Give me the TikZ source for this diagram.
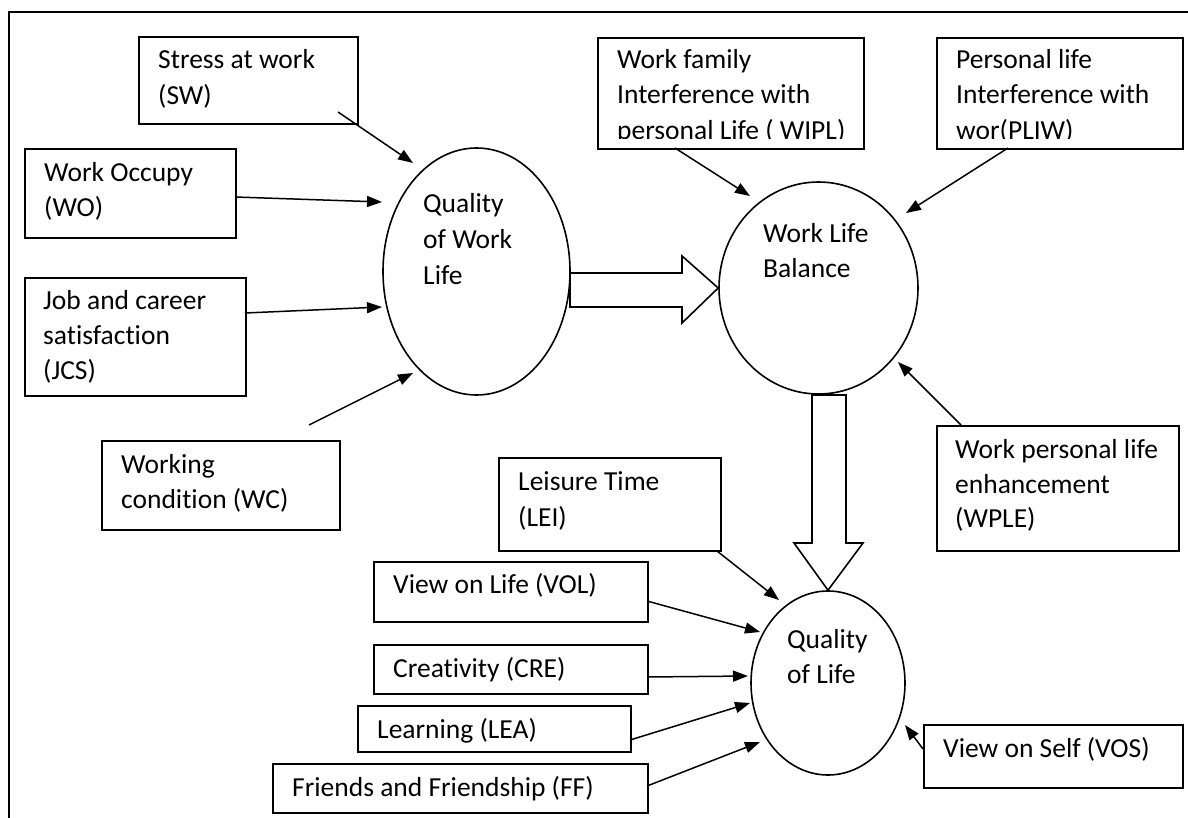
\documentclass[tikz,border=0pt]{standalone}
\usepackage{fontspec}
\setmainfont[Ligatures=NoCommon]{Carlito}
\usetikzlibrary{arrows.meta,shapes.geometric}
\begin{document}
\begin{tikzpicture}[x=1pt,y=-1pt,
  box/.style={draw, line width=1.6pt, inner sep=0pt, anchor=north west},
  lbl/.style={anchor=base west, inner sep=0pt, font=\fontsize{27.5}{35}\selectfont},
  oval/.style={draw, ellipse, line width=1.6pt, inner sep=0pt},
  arr/.style={line width=1.5pt, -{Triangle[length=15pt,width=11pt]}},
  blockarr/.style={draw, line width=1.6pt, fill=white, line join=miter}]

\useasboundingbox (0,0) rectangle (1188,818);
\draw[line width=1.6pt] (9,818) -- (9,12) -- (1188,12);

% ---------- boxes ----------
\node[box, minimum width=219pt, minimum height=87pt]  (sw)   at (138,36) {};
\node[box, minimum width=211pt, minimum height=89pt]  (wo)   at (24,148) {};
\node[box, minimum width=221pt, minimum height=118pt] (jcs)  at (24,277) {};
\node[box, minimum width=238pt, minimum height=89pt]  (wc)   at (101,440) {};
\node[box, minimum width=266pt, minimum height=111pt] (wipl) at (597,37) {};
\node[box, minimum width=246pt, minimum height=111pt] (pliw) at (936,37) {};
\node[box, minimum width=242pt, minimum height=125pt] (wple) at (936,425) {};
\node[box, minimum width=222pt, minimum height=93pt]  (lei)  at (498,457) {};
\node[box, minimum width=274pt, minimum height=60pt]  (vol)  at (373,561) {};
\node[box, minimum width=274pt, minimum height=49pt]  (cre)  at (373,644) {};
\node[box, minimum width=273pt, minimum height=46pt]  (lea)  at (357,705) {};
\node[box, minimum width=375pt, minimum height=49pt]  (ff)   at (272,763) {};
\node[box, minimum width=259pt, minimum height=63pt]  (vos)  at (923,724) {};

% ---------- ellipses ----------
\node[oval, minimum width=187pt, minimum height=247pt] (qwl) at (476.5,271.5) {};
\node[oval, minimum width=199pt, minimum height=212pt] (wlb) at (818.5,288) {};
\node[oval, minimum width=154pt, minimum height=184pt] (qol) at (828,683) {};

% ---------- block arrows ----------
\draw[blockarr] (570,273) -- (682,273) -- (682,256) -- (wlb.west) -- (682,323) -- (682,307) -- (570,307) -- cycle;
\draw[blockarr] (812,395) -- (846,395) -- (846,543) -- (863,543) -- (qol.north) -- (794,543) -- (812,543) -- cycle;

% ---------- texts ----------
\node[lbl] (swt1) at (158,69)  {Stress at work};
\node[lbl] (swt2) at (158,105) {(SW)};
\node[lbl] (wot1) at (44,182)  {Work Occupy};
\node[lbl] (wot2) at (44,217)  {(WO)};
\node[lbl] (jct1) at (43,309)  {Job and career};
\node[lbl] (jct2) at (43,344)  {satisfaction};
\node[lbl] (jct3) at (43,379)  {(JCS)};
\node[lbl] (wct1) at (121,473) {Working};
\node[lbl] (wct2) at (121,508) {condition (WC)};
\node[lbl] (wit1) at (617,69)  {Work family};
\node[lbl] (wit2) at (617,104) {Interference with};
\begin{scope}
  \clip (597,37) rectangle (863,138.5);
  \node[lbl] (wit3) at (617,140) {personal Life ( WIPL)};
\end{scope}
\node[lbl] (plt1) at (956,69)  {Personal life};
\node[lbl] (plt2) at (956,104) {Interference with};
\begin{scope}
  \clip (936,37) rectangle (1182,138.5);
  \node[lbl] (plt3) at (956,140) {wor(PLIW)};
\end{scope}
\node[lbl] (wpt1) at (955,458) {Work personal life};
\node[lbl] (wpt2) at (955,493) {enhancement};
\node[lbl] (wpt3) at (955,527) {(WPLE)};
\node[lbl] (let1) at (518,490) {Leisure Time};
\node[lbl] (let2) at (518,526) {(LEI)};
\node[lbl] (vot1) at (393,593) {View on Life (VOL)};
\node[lbl] (crt1) at (393,677) {Creativity (CRE)};
\node[lbl] (lat1) at (377,738) {Learning (LEA)};
\node[lbl] (fft1) at (292,796) {Friends and Friendship (FF)};
\node[lbl] (vst1) at (943,757) {View on Self (VOS)};
\node[lbl] (qwt1) at (423,213) {Quality};
\node[lbl] (qwt2) at (423,249) {of Work};
\node[lbl] (qwt3) at (423,284) {Life};
\node[lbl] (wlt1) at (763,243) {Work Life};
\node[lbl] (wlt2) at (763,278) {Balance};
\node[lbl] (qlt1) at (787,648) {Quality};
\node[lbl] (qlt2) at (787,683) {of Life};

% ---------- arrow end points ----------
\coordinate (swA)  at (338,112);  \coordinate (swB)  at (413,163);
\coordinate (woA)  at (235,197);  \coordinate (woB)  at (382,202);
\coordinate (jcA)  at (245,313);  \coordinate (jcB)  at (382,307);
\coordinate (wcA)  at (309,425);  \coordinate (wcB)  at (413,373);
\coordinate (wiA)  at (675,148);  \coordinate (wiB)  at (750,196);
\coordinate (plA)  at (1008,148); \coordinate (plB)  at (906,213);
\coordinate (wpA)  at (961,425);  \coordinate (wpB)  at (898,362);
\coordinate (leA)  at (717,551);  \coordinate (leB)  at (779,600);
\coordinate (voA)  at (647,601);  \coordinate (voB)  at (760,632);
\coordinate (crA)  at (647,677);  \coordinate (crB)  at (748,676);
\coordinate (laA)  at (630,740);  \coordinate (laB)  at (750,703);
\coordinate (ffA)  at (647,786);  \coordinate (ffB)  at (760,742);
\coordinate (vsA)  at (923,749);  \coordinate (vsB)  at (905,725);

\draw[arr] (swA) -- (swB);
\draw[arr] (woA) -- (woB);
\draw[arr] (jcA) -- (jcB);
\draw[arr] (wcA) -- (wcB);
\draw[arr] (wiA) -- (wiB);
\draw[arr] (plA) -- (plB);
\draw[arr] (wpA) -- (wpB);
\draw[arr] (leA) -- (leB);
\draw[arr] (voA) -- (voB);
\draw[arr] (crA) -- (crB);
\draw[arr] (laA) -- (laB);
\draw[arr] (ffA) -- (ffB);
\draw[arr] (vsA) -- (vsB);
\end{tikzpicture}
\end{document}
